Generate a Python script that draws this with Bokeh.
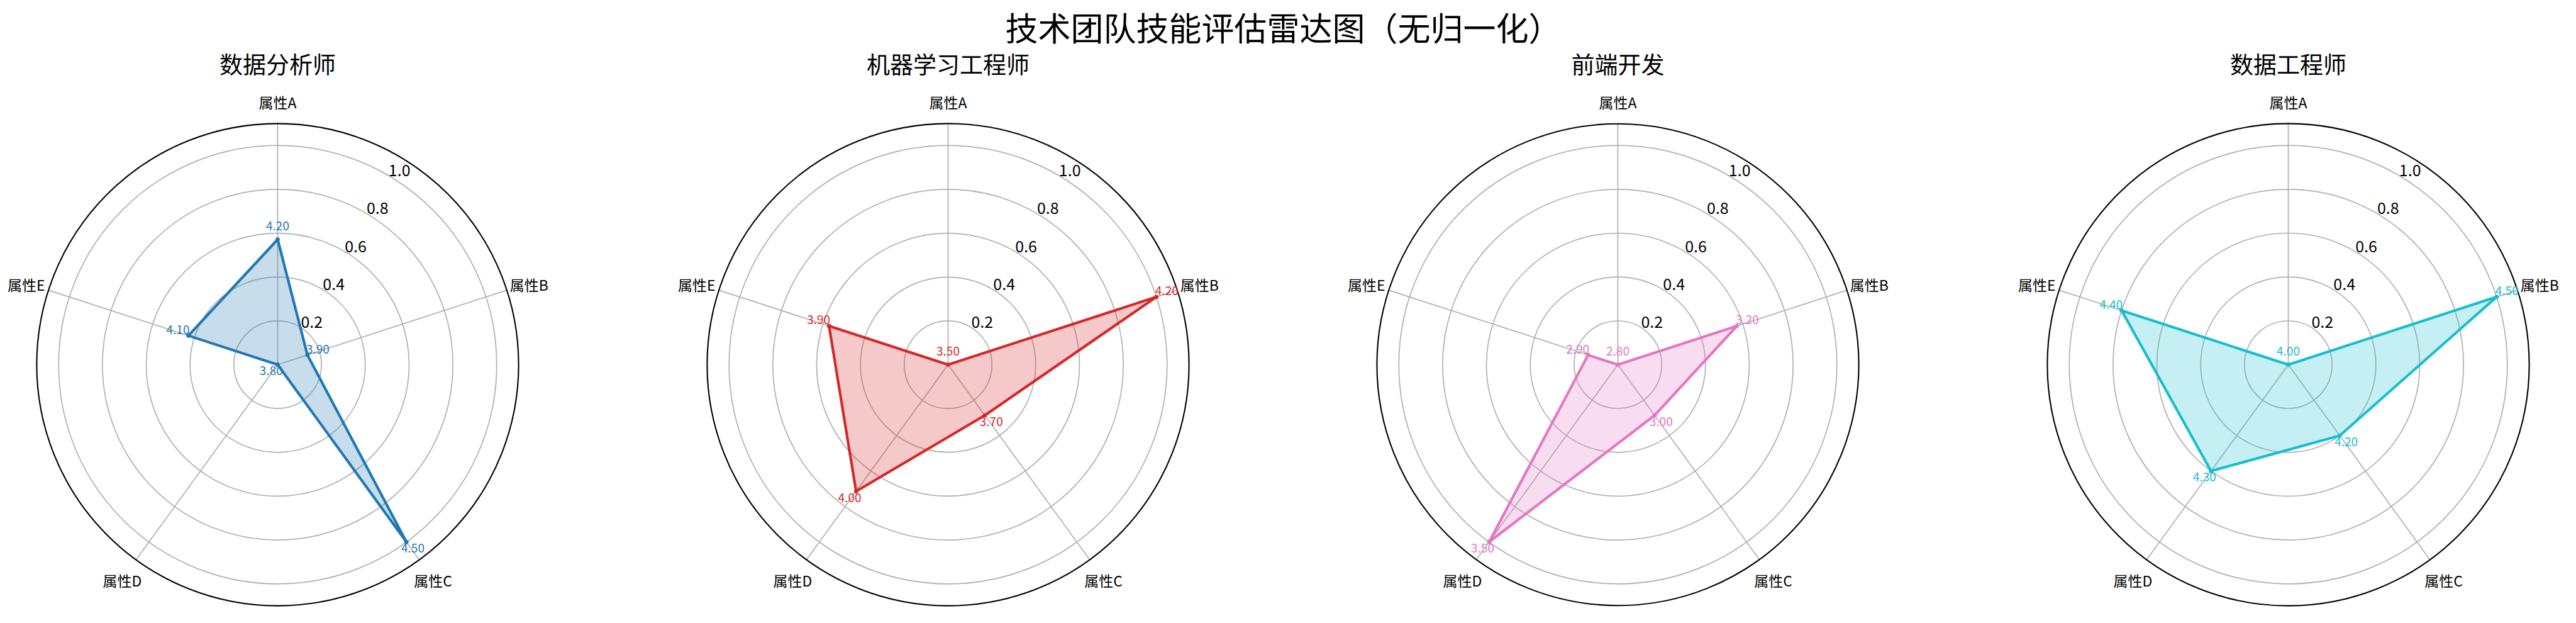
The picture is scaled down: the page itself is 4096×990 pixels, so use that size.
import numpy as np
from bokeh.plotting import figure
from bokeh.models import Range1d
from bokeh.embed import file_html
from bokeh.resources import INLINE
from bokeh.core.properties import value

# ---------------- data ----------------
suptitle = "技术团队技能评估雷达图（无归一化）"
attributes = ["属性A", "属性B", "属性C", "属性D", "属性E"]
roles = ["数据分析师", "机器学习工程师", "前端开发", "数据工程师"]
analyst = [4.2, 3.9, 4.5, 3.8, 4.1]
ml_engineer = [3.5, 4.2, 3.7, 4.0, 3.9]
frontend = [2.8, 3.2, 3.0, 3.5, 2.9]
data_engineer = [4.0, 4.5, 4.2, 4.3, 4.4]
colors = ["#1f77b4", "#d62728", "#e377c2", "#17becf"]
r_ticks = [0.2, 0.4, 0.6, 0.8, 1.0]
r_tick_labels = ["0.2", "0.4", "0.6", "0.8", "1.0"]
r_max = 1.1

series = [analyst, ml_engineer, frontend, data_engineer]

# ---------------- layout (output px, figure coordinates) ----------------
S = 0.645
UNIT = 540 * S            # px per radial unit
FONT = value("Noto Sans CJK SC")
W, H = 4080, 974
center_px = [441, 1507, 2572, 3638]   # chart centres from the figure's left
center_top = 579                      # chart centre from the figure's top
sub_title_top = 96.5                  # subplot title centre from the top
title_top = 36                        # main title centre from the top

n = len(attributes)
theta = np.arange(n) * 2 * np.pi / n   # clockwise from north

p = figure(width=W, height=H, x_range=Range1d(0, W / UNIT), y_range=Range1d(0, H / UNIT),
           output_backend="svg", toolbar_location=None)
p.xaxis.visible = False
p.yaxis.visible = False
p.xgrid.visible = False
p.ygrid.visible = False
p.outline_line_color = None
p.background_fill_color = "white"
p.border_fill_color = "white"
p.min_border = 0


def txt(x, y, text, size, color="black", dy=0.0):
    p.text(x=list(x), y=list(y), text=list(text), text_font=FONT,
           text_font_size=f"{size}px", text_color=color, text_align="center",
           text_baseline="middle", y_offset=dy + 0.12 * size)


txt([W / 2 / UNIT], [(H - title_top) / UNIT], [suptitle], 52)

for idx in range(4):
    cx = center_px[idx] / UNIT
    cy = (H - center_top) / UNIT
    color = colors[idx]
    vals = np.array(series[idx], dtype=float)
    norm = (vals - vals.min()) / (vals.max() - vals.min())

    # grid rings
    p.circle(x=[cx] * len(r_ticks), y=[cy] * len(r_ticks), radius=r_ticks,
             fill_color=None, line_color="#b0b0b0", line_width=1.7)
    # spokes
    p.segment(x0=[cx] * n, y0=[cy] * n,
              x1=list(cx + r_max * np.sin(theta)), y1=list(cy + r_max * np.cos(theta)),
              line_color="#b0b0b0", line_width=1.7)
    # outer spine
    p.circle(x=[cx], y=[cy], radius=[r_max], fill_color=None,
             line_color="black", line_width=2.1)

    # data polygon
    xs = cx + norm * np.sin(theta)
    ys = cy + norm * np.cos(theta)
    p.patch(list(xs), list(ys), fill_color=color, fill_alpha=0.25, line_color=None)
    p.line(list(xs) + [xs[0]], list(ys) + [ys[0]], line_color=color,
           line_width=4.2, line_join="round")
    p.scatter(list(xs), list(ys), size=6, color=color)

    # value labels
    lr = norm + 0.05
    txt(cx + lr * np.sin(theta), cy + lr * np.cos(theta),
        [f"{v:.2f}" for v in vals], 19, color, dy=-6.5)

    # radial tick labels
    ang = np.deg2rad(30)
    rt = np.array(r_ticks)
    txt(cx + rt * np.sin(ang) + 0.056, cy + rt * np.cos(ang) + 0.03, r_tick_labels, 25)

    # category labels
    la = 1.207
    txt(cx + la * np.sin(theta), cy + la * np.cos(theta), attributes, 23)

    # subplot title
    txt([cx], [(H - sub_title_top) / UNIT], [roles[idx]], 37)

open("out.html", "w").write(file_html(p, INLINE))
